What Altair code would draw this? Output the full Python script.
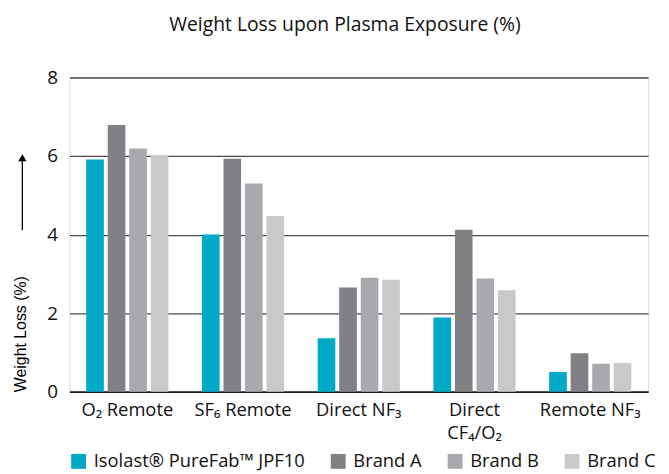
import altair as alt
import pandas as pd

categories = ["O₂ Remote", "SF₆ Remote", "Direct NF₃", "Direct|CF₄/O₂", "Remote NF₃"]
series = ["Isolast® PureFab™ JPF10", "Brand A", "Brand B", "Brand C"]
colors = ["#00AAC7", "#808185", "#A8A9AC", "#C8C9CB"]
isolast = [5.91, 4.00, 1.36, 1.89, 0.50]
brand_a = [6.79, 5.93, 2.65, 4.12, 0.98]
brand_b = [6.19, 5.30, 2.90, 2.88, 0.71]
brand_c = [6.01, 4.47, 2.85, 2.58, 0.73]

rows = []
for s, vals in zip(series, [isolast, brand_a, brand_b, brand_c]):
    for c, v in zip(categories, vals):
        rows.append({"category": c, "series": s, "value": v})
df = pd.DataFrame(rows)

label_font = "Open Sans"

bars = alt.Chart(df).mark_bar().encode(
    x=alt.X("category:N", sort=categories,
            scale=alt.Scale(paddingInner=0.29, paddingOuter=0.145),
            axis=alt.Axis(title=None, labelAngle=0, labelFontSize=18.5, labelFont=label_font,
                          labelColor="#111", labelPadding=9, ticks=False,
                          domain=True, domainColor="#000", domainWidth=1.5,
                          labelExpr="split(datum.label, '|')", labelLineHeight=23)),
    xOffset=alt.XOffset("series:N", sort=series, scale=alt.Scale(paddingInner=0.18)),
    y=alt.Y("value:Q", scale=alt.Scale(domain=[0, 8]),
            axis=alt.Axis(values=[0, 2, 4, 6, 8], title="Weight Loss (%)", titleAnchor="start",
                          titleFont="Liberation Sans", titleFontSize=16, titleFontWeight="normal",
                          titleColor="#000", titlePadding=18,
                          labelFontSize=19, labelFont=label_font, labelColor="#111",
                          labelPadding=12, ticks=False, domain=False,
                          grid=True, gridColor="#4a4a4a", gridWidth=1.3)),
    color=alt.Color("series:N", sort=series,
                    scale=alt.Scale(domain=series, range=colors),
                    legend=alt.Legend(title=None, orient="bottom", direction="horizontal",
                                      symbolType="square", symbolSize=225, symbolStrokeWidth=0,
                                      labelFontSize=18.5, labelFont=label_font, labelColor="#111",
                                      labelLimit=400, labelOffset=6, columnPadding=24, offset=10)),
)

deco = pd.DataFrame({"a": [0]})
arrow_line = alt.Chart(deco).mark_rule(color="#000", strokeWidth=1.3).encode(
    x=alt.value(-47.5), y=alt.value(84), y2=alt.value(154))
arrow_head = alt.Chart(deco).mark_point(shape="triangle-up", filled=True, color="#000",
                                        opacity=1, size=70).encode(
    x=alt.value(-47.5), y=alt.value(81))

chart = alt.layer(bars, arrow_line, arrow_head).properties(
    width=584, height=317,
    title=alt.TitleParams("Weight Loss upon Plasma Exposure (%)", font=label_font,
                          fontSize=19.5, fontWeight="normal", color="#111", offset=33, dx=-14),
).configure_view(stroke=None).configure(background="white")

chart.save("out.html", embed_options={"renderer": "svg", "actions": False})
